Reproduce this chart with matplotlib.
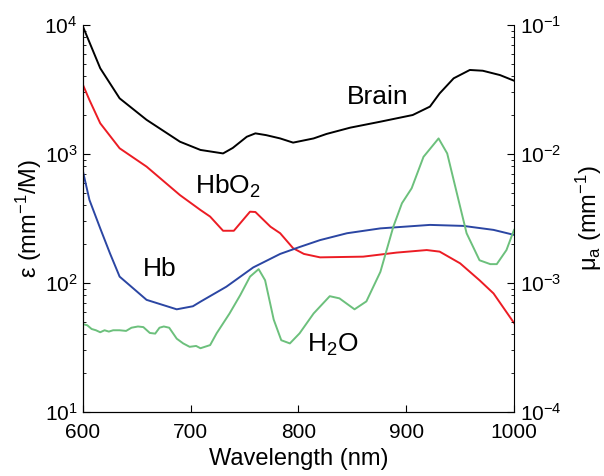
import matplotlib
matplotlib.use("Agg")
import matplotlib.pyplot as plt
import numpy as np

plt.rcParams['font.family'] = ['Liberation Sans', 'DejaVu Sans']
plt.rcParams['mathtext.fontset'] = 'custom'
plt.rcParams['mathtext.rm'] = 'Liberation Sans'
plt.rcParams['mathtext.it'] = 'Liberation Sans:italic'
plt.rcParams['mathtext.bf'] = 'Liberation Sans:bold'

# Brain (left axis, mm^-1/M equivalent)
brain_wl = [600, 616, 634, 659, 690, 709, 730, 739, 752, 760, 770, 783, 795, 814, 826,
            848, 876, 906, 922, 931, 944, 959, 971, 987, 1000]
brain_val = [9700, 4620, 2700, 1840, 1245, 1075, 1010, 1114, 1360, 1445, 1400, 1320, 1225,
             1320, 1430, 1600, 1780, 2005, 2330, 2950, 3860, 4480, 4420, 4090, 3700]

# HbO2
hbo2_wl = [600, 606, 616, 634, 659, 690, 709, 718, 730, 740, 755, 760, 774, 783, 795,
           805, 820, 860, 891, 919, 931, 950, 968, 981, 1000]
hbo2_val = [3430, 2620, 1730, 1107, 798, 480, 368, 327, 254, 254, 357, 355, 273, 243, 186,
            168, 158, 160, 172, 180, 175, 142, 105, 83, 49]

# Hb
hb_wl = [600, 606, 616, 625, 634, 659, 687, 702, 709, 733, 758, 783, 801, 820, 845, 876,
         922, 953, 981, 1000]
hb_val = [730, 440, 265, 170, 112, 74, 62.5, 66, 71.6, 93.5, 132, 168, 190, 215, 243, 265,
          282, 277, 258, 236]

# H2O (right axis, mu_a in mm^-1)
h2o_wl = [600, 604, 608, 612, 616, 620, 624, 628, 634, 640, 645, 651, 656, 662, 667, 671,
          675, 680, 687, 693, 699, 705, 709, 718, 724, 736, 746, 755, 763, 769, 777, 784,
          792, 801, 814, 829, 838, 852, 863, 876, 888, 896, 905, 916, 930, 938, 947, 956,
          968, 978, 984, 993, 1000]
h2o_val = [4.8e-4, 4.7e-4, 4.4e-4, 4.3e-4, 4.15e-4, 4.3e-4, 4.2e-4, 4.3e-4, 4.3e-4,
           4.25e-4, 4.5e-4, 4.6e-4, 4.55e-4, 4.1e-4, 4.05e-4, 4.5e-4, 4.6e-4, 4.5e-4,
           3.7e-4, 3.4e-4, 3.2e-4, 3.25e-4, 3.12e-4, 3.3e-4, 4.07e-4, 5.8e-4, 8.07e-4,
           1.12e-3, 1.28e-3, 1.05e-3, 5.2e-4, 3.6e-4, 3.4e-4, 4.07e-4, 5.8e-4, 7.9e-4,
           7.6e-4, 6.25e-4, 7.2e-4, 1.22e-3, 2.73e-3, 4.15e-3, 5.42e-3, 9.5e-3, 1.32e-2,
           1.01e-2, 4.95e-3, 2.43e-3, 1.5e-3, 1.4e-3, 1.4e-3, 1.8e-3, 2.58e-3]

xticks = [600, 700, 800, 900, 1000]

fig = plt.figure(figsize=(6.04, 4.76), dpi=100)
ax = fig.add_axes([0.1374, 0.1345, 0.851 - 0.1374, 0.9475 - 0.1345])
ax2 = ax.twinx()

lw = 1.4
ax.plot(brain_wl, brain_val, color='black', lw=lw)
ax.plot(hbo2_wl, hbo2_val, color='#ec1c24', lw=lw)
ax.plot(hb_wl, hb_val, color='#2b46a3', lw=lw)
ax2.plot(h2o_wl, h2o_val, color='#6cc07c', lw=lw)

ax.set_yscale('log')
ax2.set_yscale('log')
ax.set_xlim(600, 1000)
ax.set_ylim(10, 1e4)
ax2.set_ylim(1e-4, 1e-1)
ax.set_xticks(xticks)
ax.set_xticklabels([str(v) for v in xticks])

for a in (ax, ax2):
    a.spines['top'].set_visible(False)
    a.tick_params(which='both', direction='in', labelsize=15)
    a.tick_params(which='major', length=5, width=0.8)
    a.tick_params(which='minor', length=2.5, width=0.6)
ax.spines['right'].set_visible(False)
ax.tick_params(axis='x', pad=8)
ax.tick_params(axis='y', pad=4)
ax2.tick_params(axis='y', pad=4)

ax.set_xlabel('Wavelength (nm)', fontsize=17, labelpad=4)
ax.set_ylabel('ε (mm$^{-1}$/M)', fontsize=17, labelpad=0)
ax2.set_ylabel('μ$_{\\rm a}$ (mm$^{-1}$)', fontsize=17, labelpad=9)

ax.text(845, 2770, 'Brain', fontsize=19, ha='left', va='center')
ax.text(704, 565, 'HbO$_2$', fontsize=19, ha='left', va='center')
ax.text(656, 128, 'Hb', fontsize=19, ha='left', va='center')
ax.text(808, 33, 'H$_2$O', fontsize=19, ha='left', va='center')

fig.savefig('out.png', dpi=100)
